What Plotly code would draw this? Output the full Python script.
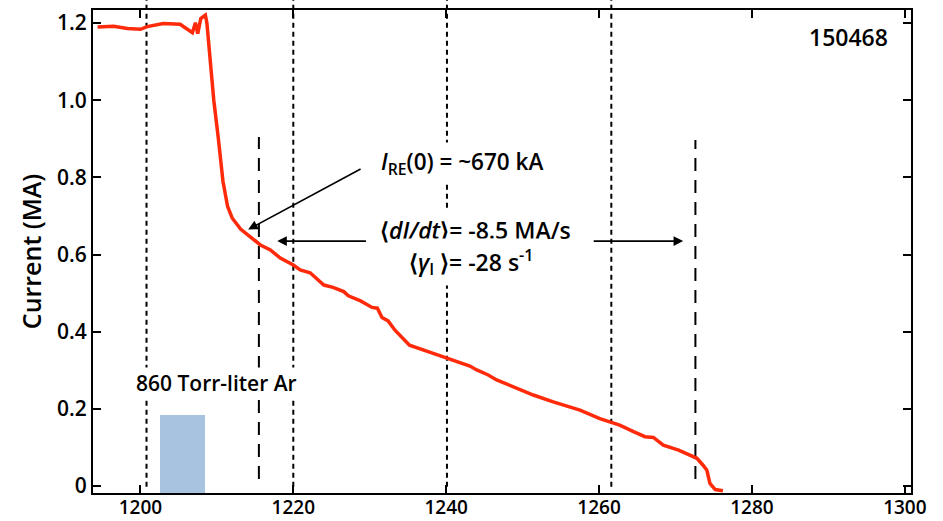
import plotly.graph_objects as go

# ---- data ----
time_ms = [1194.4, 1195.0, 1196.5, 1198.3, 1200.0, 1200.9, 1203.0, 1205.2, 1206.1, 1206.8,
           1207.2, 1207.5, 1207.9, 1208.5, 1208.7, 1209.6, 1210.2, 1210.8, 1211.4, 1212.0,
           1213.1, 1214.4, 1215.7, 1217.0, 1218.3, 1220.0, 1220.9, 1222.2, 1224.0, 1225.2,
           1226.6, 1227.2, 1228.8, 1230.3, 1231.0, 1231.6, 1232.4, 1233.3, 1234.2, 1235.2,
           1238.3, 1240.1, 1241.8, 1243.1, 1244.0, 1245.5, 1246.6, 1248.8, 1251.4, 1254.0,
           1257.5, 1260.1, 1261.9, 1262.7, 1264.5, 1266.0, 1267.1, 1268.4, 1270.4, 1271.9,
           1272.8, 1273.6, 1274.1, 1274.3, 1274.5, 1275.2, 1276.2]
current_MA = [1.190, 1.190, 1.192, 1.186, 1.184, 1.191, 1.199, 1.197, 1.186, 1.175,
              1.201, 1.173, 1.212, 1.221, 1.200, 1.000, 0.900, 0.790, 0.725, 0.695,
              0.666, 0.645, 0.625, 0.612, 0.591, 0.573, 0.560, 0.553, 0.521, 0.515,
              0.504, 0.493, 0.480, 0.463, 0.461, 0.437, 0.428, 0.404, 0.387, 0.365,
              0.344, 0.331, 0.318, 0.311, 0.301, 0.288, 0.275, 0.257, 0.236, 0.218,
              0.197, 0.175, 0.164, 0.158, 0.141, 0.128, 0.126, 0.106, 0.093, 0.080,
              0.072, 0.054, 0.041, 0.024, 0.007, -0.009, -0.012]

gas_puff_start = 1202.5
gas_puff_end = 1208.5
gas_puff_height = 0.184
gas_puff_label = "860 Torr-liter Ar"

dotted_times = [1200.8, 1220.0, 1240.1, 1261.6]
dashed_times = [1215.5, 1272.6]

x_tick_vals = [1200, 1220, 1240, 1260, 1280, 1300]
x_tick_text = ["1200", "1220", "1240", "1260", "1280", "1300"]
y_tick_vals = [0, 0.2, 0.4, 0.6, 0.8, 1.0, 1.2]
y_tick_text = ["0", "0.2", "0.4", "0.6", "0.8", "1.0", "1.2"]

shot_label = "150468"
ire_label = "<i>I</i><sub>RE</sub>(0) = ~670 kA"
rate_label_1 = "⟨<i>dI/dt</i>⟩= -8.5 MA/s"
rate_label_2 = "⟨<i>γ</i><sub>I</sub> ⟩= -28 s<sup>-1</sup>"

X_RANGE = [1193.8, 1300.8]
Y_RANGE = [-0.018, 1.234]

FONT = "Open Sans"

fig = go.Figure()

# gas puff bar
fig.add_trace(go.Bar(
    x=[(gas_puff_start + gas_puff_end) / 2],
    y=[gas_puff_height - Y_RANGE[0]],
    base=[Y_RANGE[0]],
    width=[gas_puff_end - gas_puff_start],
    marker=dict(color="#a8c3e0", line=dict(width=0)),
    showlegend=False, hoverinfo="skip",
))

# current trace
fig.add_trace(go.Scatter(
    x=time_ms, y=current_MA, mode="lines",
    line=dict(color="#ff2a0a", width=3.5),
    showlegend=False,
))

shapes = []
for t in dotted_times:
    shapes.append(dict(type="line", xref="x", yref="paper", x0=t, x1=t,
                       y0=0.013, y1=1.03, layer="below",
                       line=dict(color="black", width=2, dash="5px,4px")))
dashed_spans = [(0.905, 0.018), (0.897, 0.018)]
for t, (ytop, ybot) in zip(dashed_times, dashed_spans):
    shapes.append(dict(type="line", xref="x", yref="y", x0=t, x1=t,
                       y0=ybot, y1=ytop, layer="below",
                       line=dict(color="black", width=2, dash="13px,9px")))

annotations = [
    dict(x=0.974, y=0.944, xref="paper", yref="paper", text=shot_label, showarrow=False,
         xanchor="right", yanchor="middle", font=dict(size=23, family=FONT, color="black", weight=600)),
    dict(x=1231.0, y=0.837, xref="x", yref="y", text=ire_label, showarrow=False,
         xanchor="left", yanchor="middle", bgcolor="white", borderpad=3,
         font=dict(size=22.5, family=FONT, color="black", weight=600)),
    dict(x=1243.8, y=0.664, xref="x", yref="y", text=rate_label_1, showarrow=False,
         xanchor="center", yanchor="middle", bgcolor="white", borderpad=5,
         font=dict(size=23, family=FONT, color="black", weight=600)),
    dict(x=1243.2, y=0.582, xref="x", yref="y", text=rate_label_2, showarrow=False,
         xanchor="center", yanchor="middle", bgcolor="white", borderpad=5,
         font=dict(size=23, family=FONT, color="black", weight=600)),
    dict(x=1209.9, y=0.267, xref="x", yref="y", text=gas_puff_label, showarrow=False,
         xanchor="center", yanchor="middle", bgcolor="white", borderpad=1,
         font=dict(size=21, family=FONT, color="black", weight=600)),
    # arrows
    dict(x=1214.1, y=0.665, ax=1229.0, ay=0.824, xref="x", yref="y", axref="x", ayref="y",
         text="", showarrow=True, arrowhead=2, arrowsize=1.2, arrowwidth=1.6, arrowcolor="black"),
    dict(x=1217.9, y=0.635, ax=1229.7, ay=0.635, xref="x", yref="y", axref="x", ayref="y",
         text="", showarrow=True, arrowhead=2, arrowsize=1.2, arrowwidth=1.6, arrowcolor="black"),
    dict(x=1271.0, y=0.635, ax=1259.1, ay=0.635, xref="x", yref="y", axref="x", ayref="y",
         text="", showarrow=True, arrowhead=2, arrowsize=1.2, arrowwidth=1.6, arrowcolor="black"),
]

fig.update_layout(
    width=943, height=521,
    margin=dict(l=93, r=32, t=10, b=28),
    paper_bgcolor="white", plot_bgcolor="white",
    font=dict(family=FONT, size=21, color="black", weight=600),
    shapes=shapes, annotations=annotations,
    bargap=0,
)
fig.update_xaxes(range=X_RANGE, tickvals=x_tick_vals, ticktext=x_tick_text, automargin=False,
                 showgrid=False, zeroline=False, showline=True, linecolor="black", linewidth=2,
                 mirror="allticks", ticks="inside", ticklen=8, tickwidth=2, tickcolor="black",
                 ticklabelstandoff=-4,
                 tickfont=dict(size=19, family=FONT, weight=600))
fig.update_yaxes(range=Y_RANGE, tickvals=y_tick_vals, ticktext=y_tick_text, automargin=False,
                 showgrid=False, zeroline=False, showline=True, linecolor="black", linewidth=2,
                 mirror="allticks", ticks="inside", ticklen=8, tickwidth=2, tickcolor="black",
                 tickfont=dict(size=21, family=FONT, weight=600),
                 title=dict(text="Current (MA)", font=dict(size=25, family=FONT, weight=600), standoff=8))

fig.write_html("out.html")
